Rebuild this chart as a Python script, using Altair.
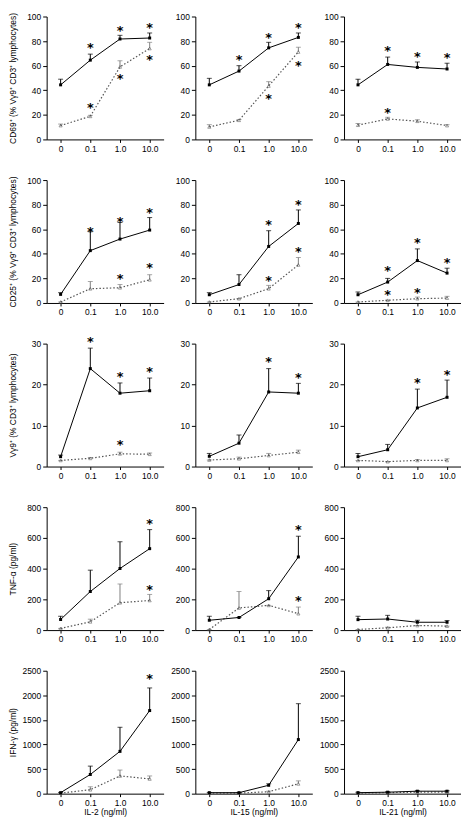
import altair as alt
import pandas as pd

X_LABELS = ["0", "0.1", "1.0", "10.0"]
STAR = "*"

# ---- Row 1: CD69 ----
CD69_IL2 = dict(solid=[44.4, 64.5, 81.7, 82.5], solid_top=[49, 69.4, 84.7, 86.6],
                dotted=[11.3, 18.8, 59, 74], dotted_top=[12.5, 19.6, 64, 79],
                sx=[1, 2, 3, 1, 2, 3], sy=[76.6, 91, 93, 28, 51.6, 66.7])
CD69_IL15 = dict(solid=[44.4, 55.6, 74.5, 83], solid_top=[49.7, 60, 79, 86.6],
                 dotted=[10.2, 15.6, 43.5, 71.2], dotted_top=[12, 16.2, 47, 75],
                 sx=[1, 2, 3, 2, 3], sy=[66.7, 84.7, 93, 35, 62])
CD69_IL21 = dict(solid=[44.4, 61, 58.6, 57.3], solid_top=[49, 67, 63, 62],
                 dotted=[11.6, 16.7, 14.8, 11.3], dotted_top=[13, 18, 16, 12],
                 sx=[1, 2, 3, 1], sy=[74.5, 69.4, 68.5, 24])

# ---- Row 2: CD25 ----
CD25_IL2 = dict(solid=[7, 42.6, 52, 59.3], solid_top=[8.4, 58, 65.5, 69.5],
                dotted=[0.8, 11.6, 12.4, 18.9], dotted_top=[0.8, 17.5, 15, 23],
                sx=[1, 2, 3, 2, 3], sy=[60, 68, 75.7, 21.6, 30.5])
CD25_IL15 = dict(solid=[6.7, 15, 46, 64.7], solid_top=[8.4, 23, 58.8, 75.7],
                 dotted=[0.8, 3.5, 11.6, 31], dotted_top=[0.8, 3.5, 14.3, 37],
                 sx=[2, 3, 2, 3], sy=[65.5, 81.7, 20, 44])
CD25_IL21 = dict(solid=[6.7, 17, 34.5, 24.3], solid_top=[9, 20, 44, 28.3],
                 dotted=[0.8, 2.2, 3.5, 4], dotted_top=[0.8, 2.2, 4.8, 5.4],
                 sx=[1, 2, 3, 1, 2], sy=[28.3, 51.2, 35, 9, 10.2])

# ---- Row 3: Vgamma9 ----
VG9_IL2 = dict(solid=[2.4, 23.9, 17.9, 18.5], solid_top=[2.8, 28.9, 20.4, 21.6],
               dotted=[1.5, 2, 3.1, 3], dotted_top=[1.5, 2.2, 3.5, 3.3],
               sx=[1, 2, 3, 2], sy=[31, 22.5, 23.8, 5.9])
VG9_IL15 = dict(solid=[2.5, 5.7, 18.2, 17.9], solid_top=[3.2, 7.7, 23.9, 20.3],
                dotted=[1.6, 1.9, 2.7, 3.5], dotted_top=[1.6, 2.3, 3.2, 4],
                sx=[2, 3], sy=[26.2, 22.3])
VG9_IL21 = dict(solid=[2.4, 4.1, 14.3, 16.9], solid_top=[3.2, 5.4, 18.9, 21.1],
                dotted=[1.5, 1.2, 1.5, 1.5], dotted_top=[1.5, 1.2, 1.7, 1.9],
                sx=[2, 3], sy=[21.2, 23.1])

# ---- Row 4: TNF-alpha ----
TNF_IL2 = dict(solid=[69, 251, 401, 530], solid_top=[90, 390, 575, 654],
               dotted=[11, 54, 178, 193], dotted_top=[11, 71, 300, 232],
               sx=[3, 3], sy=[712, 283])
TNF_IL15 = dict(solid=[64, 82, 204, 476], solid_top=[90, 82, 257, 611],
                dotted=[4, 144, 161, 107], dotted_top=[4, 251, 161, 150],
                sx=[3, 3], sy=[670, 208])
TNF_IL21 = dict(solid=[68, 72, 51, 51], solid_top=[90, 96, 64, 62],
                dotted=[4, 15, 30, 26], dotted_top=[4, 19, 30, 26],
                sx=[], sy=[])

# ---- Row 5: IFN-gamma ----
IFN_IL2 = dict(solid=[20, 390, 860, 1690], solid_top=[25, 560, 1350, 2150],
               dotted=[10, 80, 360, 300], dotted_top=[10, 140, 480, 360],
               sx=[3], sy=[2400])
IFN_IL15 = dict(solid=[20, 20, 170, 1100], solid_top=[25, 25, 200, 1830],
                dotted=[10, 10, 40, 200], dotted_top=[10, 10, 50, 260],
                sx=[], sy=[])
IFN_IL21 = dict(solid=[20, 30, 50, 50], solid_top=[30, 40, 60, 60],
                dotted=[10, 20, 30, 30], dotted_top=[10, 20, 35, 35],
                sx=[], sy=[])

ROWS = [
    ("CD69⁺ (% Vγ9⁺ CD3⁺ lymphocytes)", 100, 20, [CD69_IL2, CD69_IL15, CD69_IL21]),
    ("CD25⁺ (% Vγ9⁺ CD3⁺ lymphocytes)", 100, 20, [CD25_IL2, CD25_IL15, CD25_IL21]),
    ("Vγ9⁺ (% CD3⁺ lymphocytes)", 30, 10, [VG9_IL2, VG9_IL15, VG9_IL21]),
    ("TNF-α (pg/ml)", 800, 200, [TNF_IL2, TNF_IL15, TNF_IL21]),
    ("IFN-γ (pg/ml)", 2500, 500, [IFN_IL2, IFN_IL15, IFN_IL21]),
]
X_TITLES = ["IL-2 (ng/ml)", "IL-15 (ng/ml)", "IL-21 (ng/ml)"]

W, H = 118, 124
SOLID_C = "#000000"
DOT_C = "#555555"
DOT_ERR_C = "#808080"


def panel(p, ymax, ystep, ytitle, xtitle):
    rows = []
    for i, lab in enumerate(X_LABELS):
        rows.append(dict(x=lab, series="solid", y=p["solid"][i], top=p["solid_top"][i]))
        rows.append(dict(x=lab, series="dotted", y=p["dotted"][i], top=p["dotted_top"][i]))
    df = pd.DataFrame(rows)
    stars = pd.DataFrame({"x": [X_LABELS[i] for i in p["sx"]], "y": p["sy"], "t": [STAR] * len(p["sy"])})

    x = alt.X("x:O", sort=X_LABELS,
              scale=alt.Scale(type="point", padding=0.47, domain=X_LABELS),
              axis=alt.Axis(title=xtitle, labelAngle=0, tickSize=3, labelPadding=2, titlePadding=1))

    def yq(field):
        return alt.Y(field, type="quantitative",
                     scale=alt.Scale(domain=[0, ymax], nice=False, zero=True),
                     axis=alt.Axis(title=ytitle, values=list(range(0, ymax + 1, ystep)),
                                   format="d", tickSize=4, labelPadding=2,
                                   minExtent=24, maxExtent=24, titlePadding=5))

    base = alt.Chart(df)
    sol = base.transform_filter("datum.series == 'solid'")
    dot = base.transform_filter("datum.series == 'dotted'")

    layers = [
        dot.mark_rule(color=DOT_ERR_C, strokeWidth=1).encode(x=x, y=yq("y"), y2="top:Q"),
        dot.mark_tick(color=DOT_ERR_C, size=5, thickness=1, orient="horizontal").encode(x=x, y=yq("top")),
        dot.mark_line(color=DOT_C, strokeWidth=1.2, strokeDash=[1.5, 2]).encode(x=x, y=yq("y")),
        dot.mark_point(shape="triangle-up", filled=False, color=DOT_C, size=10, strokeWidth=0.8).encode(x=x, y=yq("y")),
        sol.mark_rule(color=SOLID_C, strokeWidth=1).encode(x=x, y=yq("y"), y2="top:Q"),
        sol.mark_tick(color=SOLID_C, size=5, thickness=1, orient="horizontal").encode(x=x, y=yq("top")),
        sol.mark_line(color=SOLID_C, strokeWidth=1).encode(x=x, y=yq("y")),
        sol.mark_square(color=SOLID_C, size=9, opacity=1).encode(x=x, y=yq("y")),
    ]
    if len(stars):
        layers.append(
            alt.Chart(stars).mark_text(font="DejaVu Sans", fontWeight="bold", fontSize=13,
                                       baseline="middle", align="center", dy=3, color="black")
            .encode(x=x, y=yq("y"), text="t:N")
        )
    return alt.layer(*layers).properties(width=W, height=H)


panels = []
for r, (ytitle, ymax, ystep, plist) in enumerate(ROWS):
    for c, p in enumerate(plist):
        panels.append(panel(
            p, ymax, ystep,
            ytitle if c == 0 else None,
            X_TITLES[c] if r == len(ROWS) - 1 else None,
        ))

chart = (
    alt.concat(*panels, columns=3, spacing={"row": 41, "column": 32}, bounds="flush")
    .properties(padding=0)
    .configure_view(stroke=None)
    .configure_axis(
        labelFont="Liberation Sans", titleFont="Liberation Sans",
        labelFontSize=8.5, titleFontSize=8.5, titleFontWeight="normal",
        labelColor="black", titleColor="black",
        domainColor="black", tickColor="black", domainWidth=1, tickWidth=1,
        grid=False,
    )
)

chart.save("out.html", embed_options={"renderer": "svg", "actions": False})
